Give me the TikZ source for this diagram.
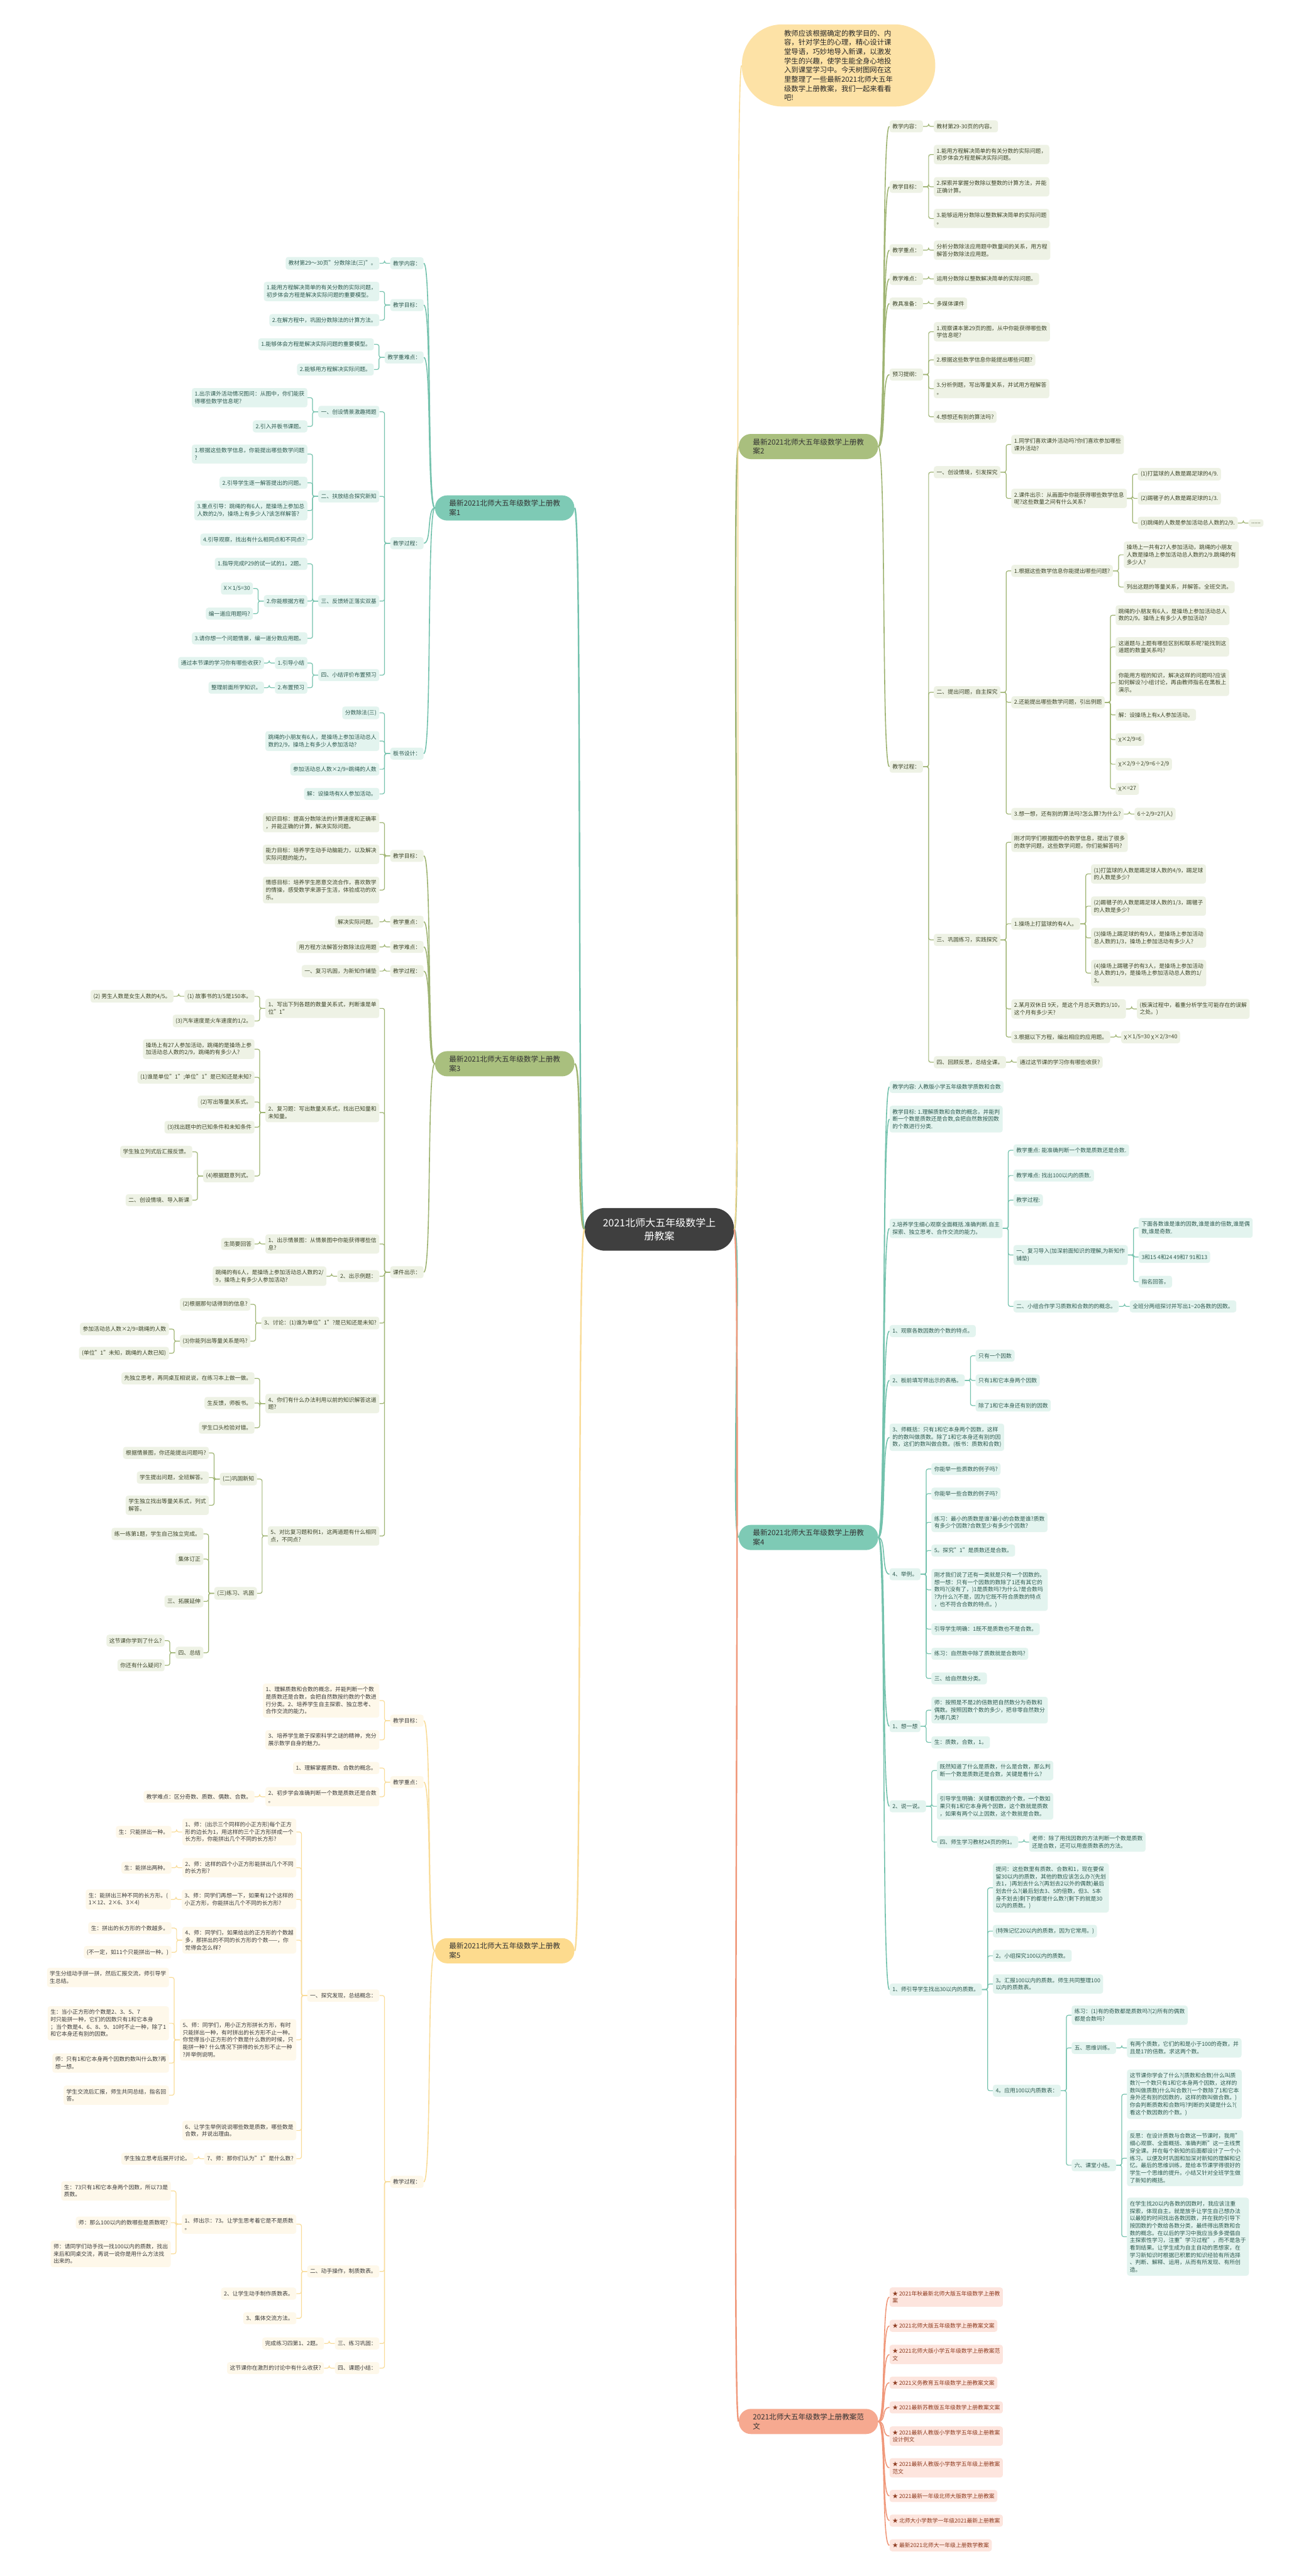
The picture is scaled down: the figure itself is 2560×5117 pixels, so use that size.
\documentclass[tikz,border=0pt]{standalone}
\usepackage{fontspec}
\setmainfont{Noto Sans CJK SC}
\definecolor{tealmain}{HTML}{7ECAB5}
\definecolor{tealfill}{HTML}{E3F4EF}
\definecolor{tealline}{HTML}{74C2AD}
\definecolor{tealtext}{HTML}{2E5A50}
\definecolor{olmain}{HTML}{A9BF7E}
\definecolor{olfill}{HTML}{EEF2E5}
\definecolor{olline}{HTML}{9FB473}
\definecolor{oltext}{HTML}{3D4529}
\definecolor{yemain}{HTML}{FDDB8E}
\definecolor{yefill}{HTML}{FEF8EA}
\definecolor{yeline}{HTML}{F9DC98}
\definecolor{yetext}{HTML}{3B3B3B}
\definecolor{pkmain}{HTML}{F6A990}
\definecolor{pkfill}{HTML}{FDE5DE}
\definecolor{pkline}{HTML}{F0987A}
\definecolor{pktext}{HTML}{8E3B20}
\definecolor{hubfill}{HTML}{3F3F3F}
\definecolor{introfill}{HTML}{FDE2A6}
\tikzset{
  leaf/.style={rounded corners=2.5pt, inner xsep=2.8pt, inner ysep=3.4pt, align=left,
    font=\fontsize{5.5}{7.3}\selectfont},
  tl/.style={leaf, fill=tealfill, text=tealtext},
  ol/.style={leaf, fill=olfill, text=oltext},
  yl/.style={leaf, fill=yefill, text=yetext},
  pl/.style={leaf, fill=pkfill, text=pktext},
  toR/.style={anchor=west, xshift=10.5pt},
  toL/.style={anchor=east, xshift=-10.5pt},
  branch/.style={rounded corners=12pt, inner xsep=14pt, inner ysep=4.5pt, align=left,
    font=\fontsize{7.25}{9.25}\selectfont, text=black!80},
  hub/.style={fill=hubfill, text=white, rounded corners=20pt, align=center,
    font=\fontsize{10}{13}\selectfont, inner xsep=18pt, inner ysep=10pt},
  intro/.style={fill=introfill, rounded corners=40pt, align=left, text=black!85,
    font=\fontsize{7.1}{9.15}\selectfont, inner xsep=42pt, inner ysep=5.5pt},
  rlink/.style={rounded corners=2pt, to path={(\tikztostart.east) -- ++(11,0) |- (\tikztotarget.west)}},
  llink/.style={rounded corners=2pt, to path={(\tikztostart.west) -- ++(-11,0) |- (\tikztotarget.east)}},
  rcurve/.style={to path={(\tikztostart.east) .. controls +(16,0) and +(-16,0) .. (\tikztotarget.west)}},
  lcurve/.style={to path={(\tikztostart.west) .. controls +(-16,0) and +(16,0) .. (\tikztotarget.east)}}
}

\begin{document}
\begin{tikzpicture}[x=0.5pt,y=-0.5pt]
\useasboundingbox (0,0) rectangle (2560,5117);
\fill[white] (0,0) rectangle (2560,5117);

% centre
\node[hub] (c) at (1310,2442) {2021北师大五年级数学上\\册教案};
\node[intro] (intro) at (1666,130) {教师应该根据确定的教学目的、内\\容，针对学生的心理，精心设计课\\堂导语，巧妙地导入新课，以激发\\学生的兴趣，使学生能全身心地投\\入到课堂学习中。今天树图网在这\\里整理了一些最新2021北师大五年\\级数学上册教案，我们一起来看看\\吧!};

% ---- case 2 (right, olive)
\node[branch, fill=olmain, anchor=east] (r2) at (1745,887) {最新2021北师大五年级数学上册教\\案2};
\node[ol, anchor=west] (r2a) at (1767,251) {教学内容：};
\node[ol, anchor=west] (r2b) at (1767,371) {教学目标：};
\node[ol, anchor=west] (r2c) at (1767,497) {教学重点：};
\node[ol, anchor=west] (r2d) at (1767,554) {教学难点：};
\node[ol, anchor=west] (r2e) at (1767,603) {教具准备：};
\node[ol, anchor=west] (r2f) at (1767,744) {预习提纲：};
\node[ol, anchor=west] (r2g) at (1767,1523) {教学过程：};
\node[ol, toR] (r2a1) at (r2a.east |- 0,251) {教材第29-30页的内容。};
\node[ol, toR] (r2b1) at (r2b.east |- 0,307) {1.能用方程解决简单的有关分数的实际问题，\\初步体会方程是解决实际问题。};
\node[ol, toR] (r2b2) at (r2b.east |- 0,371) {2.探索并掌握分数除以整数的计算方法，并能\\正确计算。};
\node[ol, toR] (r2b3) at (r2b.east |- 0,434) {3.能够运用分数除以整数解决简单的实际问题\\。};
\node[ol, toR] (r2c1) at (r2c.east |- 0,497) {分析分数除法应用题中数量间的关系，用方程\\解答分数除法应用题。};
\node[ol, toR] (r2d1) at (r2d.east |- 0,554) {运用分数除以整数解决简单的实际问题。};
\node[ol, toR] (r2e1) at (r2e.east |- 0,603) {多媒体课件};
\node[ol, toR] (r2f1) at (r2f.east |- 0,659) {1.观察课本第29页的图，从中你能获得哪些数\\学信息呢?};
\node[ol, toR] (r2f2) at (r2f.east |- 0,715) {2.根据这些数学信息你能提出哪些问题?};
\node[ol, toR] (r2f3) at (r2f.east |- 0,772) {3.分析例题，写出等量关系，并试用方程解答\\。};
\node[ol, toR] (r2f4) at (r2f.east |- 0,828) {4.想想还有别的算法吗?};
\node[ol, toR] (r2g1) at (r2g.east |- 0,938) {一、创设情境，引发探究};
\node[ol, toR] (r2g1a) at (r2g1.east |- 0,883) {1.同学们喜欢课外活动吗?你们喜欢参加哪些\\课外活动?};
\node[ol, toR] (r2g1b) at (r2g1.east |- 0,990) {2.课件出示：从画面中你能获得哪些数学信息\\呢?这些数量之间有什么关系?};
\node[ol, toR] (r2g1b1) at (r2g1b.east |- 0,942) {(1)打篮球的人数是踢足球的4/9.};
\node[ol, toR] (r2g1b2) at (r2g1b.east |- 0,990) {(2)踢毽子的人数是踢足球的1/3.};
\node[ol, toR] (r2g1b3) at (r2g1b.east |- 0,1039) {(3)跳绳的人数是参加活动总人数的2/9.};
\node[ol, toR] (r2g1b3a) at (r2g1b3.east |- 0,1039) {......};
\node[ol, toR] (r2g2) at (r2g.east |- 0,1375) {二、提出问题，自主探究};
\node[ol, toR] (r2g2a) at (r2g2.east |- 0,1134) {1.根据这些数学信息你能提出哪些问题?};
\node[ol, toR] (r2g2a1) at (r2g2a.east |- 0,1102) {操场上一共有27人参加活动，跳绳的小朋友\\人数是操场上参加活动总人数的2/9.跳绳的有\\多少人?};
\node[ol, toR] (r2g2a2) at (r2g2a.east |- 0,1166) {列出这题的等量关系，并解答。全班交流。};
\node[ol, toR] (r2g2b) at (r2g2.east |- 0,1395) {2.还能提出哪些数学问题，引出例题};
\node[ol, toR] (r2g2b1) at (r2g2b.east |- 0,1222) {跳绳的小朋友有6人，是操场上参加活动总人\\数的2/9。操场上有多少人参加活动?};
\node[ol, toR] (r2g2b2) at (r2g2b.east |- 0,1285) {这道题与上题有哪些区别和联系呢?能找到这\\道题的数量关系吗?};
\node[ol, toR] (r2g2b3) at (r2g2b.east |- 0,1356) {你能用方程的知识，解决这样的问题吗?应该\\如何解设?小组讨论，再由教师指名在黑板上\\演示。};
\node[ol, toR] (r2g2b4) at (r2g2b.east |- 0,1420) {解：设操场上有x人参加活动。};
\node[ol, toR] (r2g2b5) at (r2g2b.east |- 0,1469) {χ×2/9=6};
\node[ol, toR] (r2g2b6) at (r2g2b.east |- 0,1518) {χ×2/9÷2/9=6÷2/9};
\node[ol, toR] (r2g2b7) at (r2g2b.east |- 0,1567) {χ×=27};
\node[ol, toR] (r2g2c) at (r2g2.east |- 0,1617) {3.想一想，还有别的算法吗?怎么算?为什么?};
\node[ol, toR] (r2g2c1) at (r2g2c.east |- 0,1617) {6÷2/9=27(人)};
\node[ol, toR] (r2g3) at (r2g.east |- 0,1867) {三、巩固练习，实践探究};
\node[ol, toR] (r2g3a) at (r2g3.east |- 0,1673) {刚才同学们根据图中的数学信息，提出了很多\\的数学问题，这些数学问题，你们能解答吗?};
\node[ol, toR] (r2g3b) at (r2g3.east |- 0,1835) {1.操场上打篮球的有4人。};
\node[ol, toR] (r2g3b1) at (r2g3b.east |- 0,1736) {(1)打篮球的人数是踢足球人数的4/9，踢足球\\的人数是多少?};
\node[ol, toR] (r2g3b2) at (r2g3b.east |- 0,1800) {(2)踢毽子的人数是踢足球人数的1/3，踢毽子\\的人数是多少?};
\node[ol, toR] (r2g3b3) at (r2g3b.east |- 0,1863) {(3)操场上踢足球的有9人，是操场上参加活动\\总人数的1/3，操场上参加活动有多少人?};
\node[ol, toR] (r2g3b4) at (r2g3b.east |- 0,1933) {(4)操场上踢毽子的有3人，是操场上参加活动\\总人数的1/9，是操场上参加活动总人数的1/\\3。};
\node[ol, toR] (r2g3c) at (r2g3.east |- 0,2004) {2.某月双休日 9天，是这个月总天数的3/10，\\这个月有多少天?};
\node[ol, toR] (r2g3c1) at (r2g3c.east |- 0,2004) {(板演过程中，着重分析学生可能存在的误解\\之处。)};
\node[ol, toR] (r2g3d) at (r2g3.east |- 0,2060) {3.根据以下方程，编出相应的应用题。};
\node[ol, toR] (r2g3d1) at (r2g3d.east |- 0,2060) {χ×1/5=30 χ×2/3=40};
\node[ol, toR] (r2g4) at (r2g.east |- 0,2110) {四、回顾反思，总结全课。};
\node[ol, toR] (r2g4a) at (r2g4.east |- 0,2110) {通过这节课的学习你有哪些收获?};

% ---- case 4 (right, teal)
\node[branch, fill=tealmain, anchor=east] (r4) at (1745,3054) {最新2021北师大五年级数学上册教\\案4};
\node[tl, anchor=west] (r4a) at (1767,2159) {教学内容: 人教版小学五年级数学质数和合数};
\node[tl, anchor=west] (r4b) at (1767,2223) {教学目标: 1.理解质数和合数的概念，并能判\\断一个数是质数还是合数,会把自然数按因数\\的个数进行分类.};
\node[tl, anchor=west] (r4c) at (1767,2440) {2.培养学生细心观察全面概括.准确判断.自主\\探索、独立思考、合作交流的能力。};
\node[tl, toR] (r4c1) at (r4c.east |- 0,2285) {教学重点: 能准确判断一个数是质数还是合数.};
\node[tl, toR] (r4c2) at (r4c.east |- 0,2335) {教学难点: 找出100以内的质数.};
\node[tl, toR] (r4c3) at (r4c.east |- 0,2384) {教学过程:};
\node[tl, toR] (r4c4) at (r4c.east |- 0,2493) {一、复习导入(加深前面知识的理解,为新知作\\铺垫)};
\node[tl, toR] (r4c4a) at (r4c4.east |- 0,2439) {下面各数谁是谁的因数,谁是谁的倍数,谁是偶\\数,谁是奇数.};
\node[tl, toR] (r4c4b) at (r4c4.east |- 0,2497) {3和15 4和24 49和7 91和13};
\node[tl, toR] (r4c4c) at (r4c4.east |- 0,2546) {指名回答。};
\node[tl, toR] (r4c5) at (r4c.east |- 0,2595) {二、小组合作学习质数和合数的的概念。};
\node[tl, toR] (r4c5a) at (r4c5.east |- 0,2595) {全班分两组探讨并写出1\textasciitilde20各数的因数。};
\node[tl, anchor=west] (r4d) at (1767,2644) {1、观察各数因数的个数的特点。};
\node[tl, anchor=west] (r4e) at (1767,2742) {2、板前填写师出示的表格。};
\node[tl, toR] (r4e1) at (r4e.east |- 0,2693) {只有一个因数};
\node[tl, toR] (r4e2) at (r4e.east |- 0,2742) {只有1和它本身两个因数};
\node[tl, toR] (r4e3) at (r4e.east |- 0,2792) {除了1和它本身还有别的因数};
\node[tl, anchor=west] (r4f) at (1767,2855) {3、师概括：只有1和它本身两个因数，这样\\的的数叫做质数。除了1和它本身还有别的因\\数，这们的数叫做合数。(板书：质数和合数)};
\node[tl, anchor=west] (r4g) at (1767,3127) {4、举例。};
\node[tl, toR] (r4g1) at (r4g.east |- 0,2918) {你能举一些质数的例子吗?};
\node[tl, toR] (r4g2) at (r4g.east |- 0,2967) {你能举一些合数的例子吗?};
\node[tl, toR] (r4g3) at (r4g.east |- 0,3024) {练习：最小的质数是谁?最小的合数是谁?质数\\有多少个因数?合数至少有多少个因数?};
\node[tl, toR] (r4g4) at (r4g.east |- 0,3080) {5。探究"1"是质数还是合数。};
\node[tl, toR] (r4g5) at (r4g.east |- 0,3158) {刚才我们说了还有一类就是只有一个因数的。\\想一想：只有一个因数的数除了1还有其它的\\数吗?(没有了，)1是质数吗?为什么?是合数吗\\?为什么?(不是，因为它既不符合质数的特点\\，也不符合合数的特点。)};
\node[tl, toR] (r4g6) at (r4g.east |- 0,3236) {引导学生明确：1既不是质数也不是合数。};
\node[tl, toR] (r4g7) at (r4g.east |- 0,3285) {练习：自然数中除了质数就是合数吗?};
\node[tl, toR] (r4g8) at (r4g.east |- 0,3334) {三、给自然数分类。};
\node[tl, anchor=west] (r4h) at (1767,3429) {1、想一想};
\node[tl, toR] (r4h1) at (r4h.east |- 0,3397) {师：按照是不是2的倍数把自然数分为奇数和\\偶数。按照因数个数的多少，把非零自然数分\\为哪几类?};
\node[tl, toR] (r4h2) at (r4h.east |- 0,3461) {生：质数，合数，1。};
\node[tl, anchor=west] (r4i) at (1767,3588) {2、说一说。};
\node[tl, toR] (r4i1) at (r4i.east |- 0,3517) {既然知道了什么是质数，什么是合数，那么判\\断一个数是质数还是合数，关键是看什么?};
\node[tl, toR] (r4i2) at (r4i.east |- 0,3588) {引导学生明确：关键看因数的个数，一个数如\\果只有1和它本身两个因数，这个数就是质数\\，如果有两个以上因数，这个数就是合数。};
\node[tl, toR] (r4i3) at (r4i.east |- 0,3659) {四、师生学习教材24页的例1。};
\node[tl, toR] (r4i3a) at (r4i3.east |- 0,3659) {老师：除了用找因数的方法判断一个数是质数\\还是合数，还可以用查质数表的方法。};
\node[tl, anchor=west] (r4j) at (1767,3952) {1、师引导学生找出30以内的质数。};
\node[tl, toR] (r4j1) at (r4j.east |- 0,3750) {提问：这些数里有质数、合数和1，现在要保\\留30以内的质数，其他的数应该怎么办?(先划\\去1，)再划去什么?(再划去2以外的偶数)最后\\划去什么?(最后划去3、5的倍数，但3、5本\\身不划去)剩下的都是什么数?(剩下的就是30\\以内的质数。)};
\node[tl, toR] (r4j2) at (r4j.east |- 0,3836) {(特殊记忆20以内的质数，因为它常用。)};
\node[tl, toR] (r4j3) at (r4j.east |- 0,3885) {2。小组探究100以内的质数。};
\node[tl, toR] (r4j4) at (r4j.east |- 0,3941) {3。汇报100以内的质数。师生共同整理100\\以内的质数表。};
\node[tl, toR] (r4j5) at (r4j.east |- 0,4153) {4。应用100以内质数表：};
\node[tl, toR] (r4j5a) at (r4j5.east |- 0,4003) {练习：(1)有的奇数都是质数吗?(2)所有的偶数\\都是合数吗?};
\node[tl, toR] (r4j5b) at (r4j5.east |- 0,4068) {五、思维训练。};
\node[tl, toR] (r4j5b1) at (r4j5b.east |- 0,4068) {有两个质数，它们的和是小于100的奇数，并\\且是17的倍数。求这两个数。};
\node[tl, toR] (r4j5c) at (r4j5.east |- 0,4301) {六、课堂小结。};
\node[tl, toR] (r4j5c1) at (r4j5c.east |- 0,4160) {这节课你学会了什么?(质数和合数)什么叫质\\数?(一个数只有1和它本身两个因数，这样的\\数叫做质数)什么叫合数?(一个数除了1和它本\\身外还有别的因数的，这样的数叫做合数。)\\你会判断质数和合数吗?判断的关键是什么?(\\看这个数因数的个数。)};
\node[tl, toR] (r4j5c2) at (r4j5c.east |- 0,4287) {反思：在设计质数与合数这一节课时，我用"\\细心观察、全面概括、准确判断"这一主线贯\\穿全课。并在每个新知的后面都设计了一个小\\练习。以便及时巩固和加深对新知的理解和记\\忆。最后的思维训练，是给本节课学得很好的\\学生一个思维的提升。小结又针对全班学生做\\了新知的概括。};
\node[tl, toR] (r4j5c3) at (r4j5c.east |- 0,4443) {在学生找20以内各数的因数时，我应该注重\\探索，体现自主。就是放手让学生自己想办法\\以最短的时间找出各数因数，并在我的引导下\\按因数的个数给各数分类，最终得出质数和合\\数的概念。在以后的学习中我应当多多提倡自\\主探索性学习，注重"学习过程"，而不是急于\\看到结果。让学生成为自主自动的思想家，在\\学习新知识时根据已积累的知识经验有所选择\\、判断、解释、运用，从而有所发现、有所创\\造。};

% ---- related (right, pink)
\node[branch, fill=pkmain, anchor=east] (rp) at (1745,4810) {2021北师大五年级数学上册教案范\\文};
\node[pl, anchor=west] (rp1) at (1767,4563) {★ 2021年秋最新北师大版五年级数学上册教\\案};
\node[pl, anchor=west] (rp2) at (1767,4620) {★ 2021北师大版五年级数学上册教案文案};
\node[pl, anchor=west] (rp3) at (1767,4677) {★ 2021北师大版小学五年级数学上册教案范\\文};
\node[pl, anchor=west] (rp4) at (1767,4733) {★ 2021义务教育五年级数学上册教案文案};
\node[pl, anchor=west] (rp5) at (1767,4782) {★ 2021最新苏教版五年级数学上册教案文案};
\node[pl, anchor=west] (rp6) at (1767,4839) {★ 2021最新人教版小学数学五年级上册教案\\设计例文};
\node[pl, anchor=west] (rp7) at (1767,4902) {★ 2021最新人教版小学数学五年级上册教案\\范文};
\node[pl, anchor=west] (rp8) at (1767,4958) {★ 2021最新一年级北师大版数学上册教案};
\node[pl, anchor=west] (rp9) at (1767,5007) {★ 北师大小学数学一年级2021最新上册教案};
\node[pl, anchor=west] (rp10) at (1767,5056) {★ 最新2021北师大一年级上册数学教案};

% ---- case 1 (left, teal)
\node[branch, fill=tealmain, anchor=west] (l1) at (864,1009) {最新2021北师大五年级数学上册教\\案1};
\node[tl, anchor=east] (l1a) at (842,523) {教学内容：};
\node[tl, anchor=east] (l1b) at (842,606) {教学目标：};
\node[tl, anchor=east] (l1c) at (842,710) {教学重难点：};
\node[tl, anchor=east] (l1d) at (842,1079) {教学过程：};
\node[tl, anchor=east] (l1e) at (842,1497) {板书设计：};
\node[tl, toL] (l1a1) at (l1a.west |- 0,523) {教材第29～30页"分数除法(三)"。};
\node[tl, toL] (l1b1) at (l1b.west |- 0,579) {1.能用方程解决简单的有关分数的实际问题，\\初步体会方程是解决实际问题的重要模型。};
\node[tl, toL] (l1b2) at (l1b.west |- 0,636) {2.在解方程中，巩固分数除法的计算方法。};
\node[tl, toL] (l1c1) at (l1c.west |- 0,684) {1.能够体会方程是解决实际问题的重要模型。};
\node[tl, toL] (l1c2) at (l1c.west |- 0,734) {2.能够用方程解决实际问题。};
\node[tl, toL] (l1d1) at (l1d.west |- 0,818) {一、创设情景激趣揭题};
\node[tl, toL] (l1d1a) at (l1d1.west |- 0,790) {1.出示课外活动情况图问：从图中，你们能获\\得哪些数学信息呢?};
\node[tl, toL] (l1d1b) at (l1d1.west |- 0,847) {2.引入并板书课题。};
\node[tl, toL] (l1d2) at (l1d.west |- 0,986) {二、扶放结合探究新知};
\node[tl, toL] (l1d2a) at (l1d2.west |- 0,902) {1.根据这些数学信息，你能提出哪些数学问题\\?};
\node[tl, toL] (l1d2b) at (l1d2.west |- 0,959) {2.引导学生逐一解答提出的问题。};
\node[tl, toL] (l1d2c) at (l1d2.west |- 0,1014) {3.重点引导：跳绳的有6人，是操场上参加总\\人数的2/9，操场上有多少人?该怎样解答?};
\node[tl, toL] (l1d2d) at (l1d2.west |- 0,1072) {4.引导观察，找出有什么相同点和不同点?};
\node[tl, toL] (l1d3) at (l1d.west |- 0,1194) {三、反馈矫正落实双基};
\node[tl, toL] (l1d3a) at (l1d3.west |- 0,1120) {1.指导完成P29的试一试的1，2题。};
\node[tl, toL] (l1d3b) at (l1d3.west |- 0,1194) {2.你能根据方程};
\node[tl, toL] (l1d3b1) at (l1d3b.west |- 0,1169) {X×1/5=30};
\node[tl, toL] (l1d3b2) at (l1d3b.west |- 0,1219) {编一道应用题吗?};
\node[tl, toL] (l1d3c) at (l1d3.west |- 0,1268) {3.请你想一个问题情景，编一道分数应用题。};
\node[tl, toL] (l1d4) at (l1d.west |- 0,1341) {四、小结评价布置预习};
\node[tl, toL] (l1d4a) at (l1d4.west |- 0,1317) {1.引导小结};
\node[tl, toL] (l1d4a1) at (l1d4a.west |- 0,1317) {通过本节课的学习你有哪些收获?};
\node[tl, toL] (l1d4b) at (l1d4.west |- 0,1366) {2.布置预习};
\node[tl, toL] (l1d4b1) at (l1d4b.west |- 0,1366) {整理前面所学知识。};
\node[tl, toL] (l1e1) at (l1e.west |- 0,1416) {分数除法(三)};
\node[tl, toL] (l1e2) at (l1e.west |- 0,1472) {跳绳的小朋友有6人，是操场上参加活动总人\\数的2/9，操场上有多少人参加活动?};
\node[tl, toL] (l1e3) at (l1e.west |- 0,1528) {参加活动总人数×2/9=跳绳的人数};
\node[tl, toL] (l1e4) at (l1e.west |- 0,1577) {解：设操场有X人参加活动。};

% ---- case 3 (left, olive)
\node[branch, fill=olmain, anchor=west] (l3) at (864,2113) {最新2021北师大五年级数学上册教\\案3};
\node[ol, anchor=east] (l3a) at (842,1700) {教学目标：};
\node[ol, anchor=east] (l3b) at (842,1831) {教学重点：};
\node[ol, anchor=east] (l3c) at (842,1881) {教学难点：};
\node[ol, anchor=east] (l3d) at (842,1929) {教学过程：};
\node[ol, anchor=east] (l3e) at (842,2527) {课件出示：};
\node[ol, toL] (l3a1) at (l3a.west |- 0,1634) {知识目标：提高分数除法的计算速度和正确率\\，并能正确的计算，解决实际问题。};
\node[ol, toL] (l3a2) at (l3a.west |- 0,1697) {能力目标：培养学生动手动脑能力，以及解决\\实际问题的能力。};
\node[ol, toL] (l3a3) at (l3a.west |- 0,1768) {情感目标：培养学生愿意交流合作，喜欢数学\\的情操，感受数学来源于生活，体验成功的欢\\乐。};
\node[ol, toL] (l3b1) at (l3b.west |- 0,1831) {解决实际问题。};
\node[ol, toL] (l3c1) at (l3c.west |- 0,1881) {用方程方法解答分数除法应用题};
\node[ol, toL] (l3d1) at (l3d.west |- 0,1929) {一、复习巩固，为新知作铺垫};
\node[ol, toL] (l3e1) at (l3e.west |- 0,2003) {1、写出下列各题的数量关系式，判断谁是单\\位"1"};
\node[ol, toL] (l3e1a) at (l3e1.west |- 0,1979) {(1) 故事书的3/5是150本。};
\node[ol, toL] (l3e1a1) at (l3e1a.west |- 0,1979) {(2) 男生人数是女生人数的4/5。};
\node[ol, toL] (l3e1b) at (l3e1.west |- 0,2028) {(3)汽车速度是火车速度的1/2。};
\node[ol, toL] (l3e2) at (l3e.west |- 0,2210) {2、复习题：写出数量关系式，找出已知量和\\未知量。};
\node[ol, toL] (l3e2a) at (l3e2.west |- 0,2084) {操场上有27人参加活动，跳绳的是操场上参\\加活动总人数的2/9，跳绳的有多少人?};
\node[ol, toL] (l3e2b) at (l3e2.west |- 0,2140) {(1)谁是单位"1";单位"1"是已知还是未知?};
\node[ol, toL] (l3e2c) at (l3e2.west |- 0,2189) {(2)写出等量关系式。};
\node[ol, toL] (l3e2d) at (l3e2.west |- 0,2239) {(3)找出题中的已知条件和未知条件};
\node[ol, toL] (l3e2e) at (l3e2.west |- 0,2336) {(4)根据题意列式。};
\node[ol, toL] (l3e2e1) at (l3e2e.west |- 0,2288) {学生独立列式后汇报反馈。};
\node[ol, toL] (l3e2e2) at (l3e2e.west |- 0,2384) {二、创设情境、导入新课};
\node[ol, toL] (l3e3) at (l3e.west |- 0,2471) {1、出示情景图：从情景图中你能获得哪些信\\息?};
\node[ol, toL] (l3e3a) at (l3e3.west |- 0,2471) {生简要回答};
\node[ol, toL] (l3e4) at (l3e.west |- 0,2535) {2、出示例题：};
\node[ol, toL] (l3e4a) at (l3e4.west |- 0,2535) {跳绳的有6人，是操场上参加活动总人数的2/\\9，操场上有多少人参加活动?};
\node[ol, toL] (l3e5) at (l3e.west |- 0,2628) {3、讨论：(1)谁为单位"1"?是已知还是未知?};
\node[ol, toL] (l3e5a) at (l3e5.west |- 0,2591) {(2)根据那句话得到的信息?};
\node[ol, toL] (l3e5b) at (l3e5.west |- 0,2664) {(3)你能列出等量关系是吗?};
\node[ol, toL] (l3e5b1) at (l3e5b.west |- 0,2640) {参加活动总人数×2/9=跳绳的人数};
\node[ol, toL] (l3e5b2) at (l3e5b.west |- 0,2688) {(单位"1"未知，跳绳的人数已知)};
\node[ol, toL] (l3e6) at (l3e.west |- 0,2788) {4、你们有什么办法利用以前的知识解答这道\\题?};
\node[ol, toL] (l3e6a) at (l3e6.west |- 0,2738) {先独立思考，再同桌互相说说，在练习本上做一做。};
\node[ol, toL] (l3e6b) at (l3e6.west |- 0,2787) {生反馈，师板书。};
\node[ol, toL] (l3e6c) at (l3e6.west |- 0,2836) {学生口头检验对错。};
\node[ol, toL] (l3e7) at (l3e.west |- 0,3051) {5、对比复习题和例1，这两道题有什么相同\\点，不同点?};
\node[ol, toL] (l3e7a) at (l3e7.west |- 0,2938) {(二)巩固新知};
\node[ol, toL] (l3e7a1) at (l3e7a.west |- 0,2886) {根据情景图，你还能提出问题吗?};
\node[ol, toL] (l3e7a2) at (l3e7a.west |- 0,2935) {学生提出问题，全班解答。};
\node[ol, toL] (l3e7a3) at (l3e7a.west |- 0,2990) {学生独立找出等量关系式，列式\\解答。};
\node[ol, toL] (l3e7b) at (l3e7.west |- 0,3165) {(三)练习、巩固};
\node[ol, toL] (l3e7b1) at (l3e7b.west |- 0,3047) {练一练第1题，学生自己独立完成。};
\node[ol, toL] (l3e7b2) at (l3e7b.west |- 0,3097) {集体订正};
\node[ol, toL] (l3e7b3) at (l3e7b.west |- 0,3181) {三、拓展延伸};
\node[ol, toL] (l3e7b4) at (l3e7b.west |- 0,3283) {四、总结};
\node[ol, toL] (l3e7b4a) at (l3e7b4.west |- 0,3259) {这节课你学到了什么?};
\node[ol, toL] (l3e7b4b) at (l3e7b4.west |- 0,3308) {你还有什么疑问?};

% ---- case 5 (left, yellow)
\node[branch, fill=yemain, anchor=west] (l5) at (864,3875) {最新2021北师大五年级数学上册教\\案5};
\node[yl, anchor=east] (l5a) at (842,3418) {教学目标：};
\node[yl, anchor=east] (l5b) at (842,3540) {教学重点：};
\node[yl, anchor=east] (l5c) at (842,4334) {教学过程：};
\node[yl, toL] (l5a1) at (l5a.west |- 0,3378) {1、理解质数和合数的概念，并能判断一个数\\是质数还是合数，会把自然数按约数的个数进\\行分类。2、培养学生自主探索、独立思考、\\合作交流的能力。};
\node[yl, toL] (l5a2) at (l5a.west |- 0,3456) {3、培养学生敢于探索科学之谜的精神，充分\\展示数学自身的魅力。};
\node[yl, toL] (l5b1) at (l5b.west |- 0,3512) {1、理解掌握质数、合数的概念。};
\node[yl, toL] (l5b2) at (l5b.west |- 0,3569) {2、初步学会准确判断一个数是质数还是合数\\。};
\node[yl, toL] (l5b2a) at (l5b2.west |- 0,3569) {教学难点：区分奇数、质数、偶数、合数。};
\node[yl, toL] (l5c1) at (l5c.west |- 0,3964) {一、探究发现，总结概念：};
\node[yl, toL] (l5c1a) at (l5c1.west |- 0,3639) {1、师：(出示三个同样的小正方形)每个正方\\形的边长为1，用这样的三个正方形拼成一个\\长方形，你能拼出几个不同的长方形?};
\node[yl, toL] (l5c1a1) at (l5c1a.west |- 0,3639) {生：只能拼出一种。};
\node[yl, toL] (l5c1b) at (l5c1.west |- 0,3710) {2、师：这样的四个小正方形能拼出几个不同\\的长方形?};
\node[yl, toL] (l5c1b1) at (l5c1b.west |- 0,3710) {生：能拼出两种。};
\node[yl, toL] (l5c1c) at (l5c1.west |- 0,3773) {3、师：同学们再想一下，如果有12个这样的\\小正方形，你能拼出几个不同的长方形?};
\node[yl, toL] (l5c1c1) at (l5c1c.west |- 0,3773) {生：能拼出三种不同的长方形。(\\1×12、2×6、3×4)};
\node[yl, toL] (l5c1d) at (l5c1.west |- 0,3854) {4、师：同学们，如果给出的正方形的个数越\\多，那拼出的不同的长方形的个数——，你\\觉得会怎么样?};
\node[yl, toL] (l5c1d1) at (l5c1d.west |- 0,3830) {生：拼出的长方形的个数越多。};
\node[yl, toL] (l5c1d2) at (l5c1d.west |- 0,3878) {(不一定，如11个只能拼出一种。)};
\node[yl, toL] (l5c1e) at (l5c1.west |- 0,4052) {5、师：同学们，用小正方形拼长方形，有时\\只能拼出一种，有时拼出的长方形不止一种。\\你觉得当小正方形的个数是什么数的时候，只\\能拼一种? 什么情况下拼得的长方形不止一种\\?并举例说明。};
\node[yl, toL] (l5c1e1) at (l5c1e.west |- 0,3928) {学生分组动手拼一拼，然后汇报交流，师引导学\\生总结。};
\node[yl, toL] (l5c1e2) at (l5c1e.west |- 0,4019) {生：当小正方形的个数是2、3、5、7\\时只能拼一种，它们的因数只有1和它本身\\；当个数是4、6、8、9、10时不止一种，除了1\\和它本身还有别的因数。};
\node[yl, toL] (l5c1e3) at (l5c1e.west |- 0,4098) {师：只有1和它本身两个因数的数叫什么数?再\\想一想。};
\node[yl, toL] (l5c1e4) at (l5c1e.west |- 0,4162) {学生交流后汇报，师生共同总结，指名回\\答。};
\node[yl, toL] (l5c1f) at (l5c1.west |- 0,4232) {6、让学生举例说说哪些数是质数，哪些数是\\合数，并说出理由。};
\node[yl, toL] (l5c1g) at (l5c1.west |- 0,4288) {7、师：那你们认为"1"是什么数?};
\node[yl, toL] (l5c1g1) at (l5c1g.west |- 0,4288) {学生独立思考后展开讨论。};
\node[yl, toL] (l5c2) at (l5c.west |- 0,4512) {二、动手操作，制质数表。};
\node[yl, toL] (l5c2a) at (l5c2.west |- 0,4418) {1、师出示：73。让学生思考着它是不是质数\\。};
\node[yl, toL] (l5c2a1) at (l5c2a.west |- 0,4352) {生：73只有1和它本身两个因数，所以73是\\质数。};
\node[yl, toL] (l5c2a2) at (l5c2a.west |- 0,4415) {师：那么100以内的数哪些是质数呢?};
\node[yl, toL] (l5c2a3) at (l5c2a.west |- 0,4477) {师：请同学们动手找一找100以内的质数，找出\\来后和同桌交流，再说一说你是用什么方法找\\出来的。};
\node[yl, toL] (l5c2b) at (l5c2.west |- 0,4556) {2、让学生动手制作质数表。};
\node[yl, toL] (l5c2c) at (l5c2.west |- 0,4605) {3、集体交流方法。};
\node[yl, toL] (l5c3) at (l5c.west |- 0,4655) {三、练习巩固：};
\node[yl, toL] (l5c3a) at (l5c3.west |- 0,4655) {完成练习四第1、2题。};
\node[yl, toL] (l5c4) at (l5c.west |- 0,4704) {四、课题小结：};
\node[yl, toL] (l5c4a) at (l5c4.west |- 0,4704) {这节课你在激烈的讨论中有什么收获?};

% centre links
\draw[olline, line width=1.5pt, rcurve] (c) to (r2);
\draw[tealline, line width=1.5pt, rcurve] (c) to (r4);
\draw[pkline, line width=1.5pt, rcurve] (c) to (rp);
\draw[yeline, line width=1pt, rcurve] (c) to (intro);
\draw[tealline, line width=1.5pt, lcurve] (c) to (l1);
\draw[olline, line width=1.5pt, lcurve] (c) to (l3);
\draw[yeline, line width=1.5pt, lcurve] (c) to (l5);

% branch links
\foreach \k in {r2a,r2b,r2c,r2d,r2e,r2f,r2g}
  \draw[olline, line width=1pt, rcurve] (r2) to (\k);
\foreach \k in {r4a,r4b,r4c,r4d,r4e,r4f,r4g,r4h,r4i,r4j}
  \draw[tealline, line width=1pt, rcurve] (r4) to (\k);
\foreach \k in {rp1,rp2,rp3,rp4,rp5,rp6,rp7,rp8,rp9,rp10}
  \draw[pkline, line width=1pt, rcurve] (rp) to (\k);
\foreach \k in {l1a,l1b,l1c,l1d,l1e}
  \draw[tealline, line width=1pt, lcurve] (l1) to (\k);
\foreach \k in {l3a,l3b,l3c,l3d,l3e}
  \draw[olline, line width=1pt, lcurve] (l3) to (\k);
\foreach \k in {l5a,l5b,l5c}
  \draw[yeline, line width=1pt, lcurve] (l5) to (\k);

% leaf links
\foreach \a/\b in {r2a/r2a1,r2b/r2b1,r2b/r2b2,r2b/r2b3,r2c/r2c1,r2d/r2d1,r2e/r2e1,
  r2f/r2f1,r2f/r2f2,r2f/r2f3,r2f/r2f4,r2g/r2g1,r2g/r2g2,r2g/r2g3,r2g/r2g4,
  r2g1/r2g1a,r2g1/r2g1b,r2g1b/r2g1b1,r2g1b/r2g1b2,r2g1b/r2g1b3,r2g1b3/r2g1b3a,
  r2g2/r2g2a,r2g2/r2g2b,r2g2/r2g2c,r2g2a/r2g2a1,r2g2a/r2g2a2,
  r2g2b/r2g2b1,r2g2b/r2g2b2,r2g2b/r2g2b3,r2g2b/r2g2b4,r2g2b/r2g2b5,r2g2b/r2g2b6,r2g2b/r2g2b7,
  r2g2c/r2g2c1,r2g3/r2g3a,r2g3/r2g3b,r2g3/r2g3c,r2g3/r2g3d,
  r2g3b/r2g3b1,r2g3b/r2g3b2,r2g3b/r2g3b3,r2g3b/r2g3b4,r2g3c/r2g3c1,r2g3d/r2g3d1,r2g4/r2g4a}
  \draw[olline, line width=0.75pt, rlink] (\a) to (\b);
\foreach \a/\b in {r4c/r4c1,r4c/r4c2,r4c/r4c3,r4c/r4c4,r4c/r4c5,r4c4/r4c4a,r4c4/r4c4b,r4c4/r4c4c,
  r4c5/r4c5a,r4e/r4e1,r4e/r4e2,r4e/r4e3,r4g/r4g1,r4g/r4g2,r4g/r4g3,r4g/r4g4,r4g/r4g5,
  r4g/r4g6,r4g/r4g7,r4g/r4g8,r4h/r4h1,r4h/r4h2,r4i/r4i1,r4i/r4i2,r4i/r4i3,r4i3/r4i3a,
  r4j/r4j1,r4j/r4j2,r4j/r4j3,r4j/r4j4,r4j/r4j5,r4j5/r4j5a,r4j5/r4j5b,r4j5/r4j5c,
  r4j5b/r4j5b1,r4j5c/r4j5c1,r4j5c/r4j5c2,r4j5c/r4j5c3}
  \draw[tealline, line width=0.75pt, rlink] (\a) to (\b);
\foreach \a/\b in {l1a/l1a1,l1b/l1b1,l1b/l1b2,l1c/l1c1,l1c/l1c2,l1d/l1d1,l1d/l1d2,l1d/l1d3,l1d/l1d4,
  l1d1/l1d1a,l1d1/l1d1b,l1d2/l1d2a,l1d2/l1d2b,l1d2/l1d2c,l1d2/l1d2d,l1d3/l1d3a,l1d3/l1d3b,
  l1d3/l1d3c,l1d3b/l1d3b1,l1d3b/l1d3b2,l1d4/l1d4a,l1d4/l1d4b,l1d4a/l1d4a1,l1d4b/l1d4b1,
  l1e/l1e1,l1e/l1e2,l1e/l1e3,l1e/l1e4}
  \draw[tealline, line width=0.75pt, llink] (\a) to (\b);
\foreach \a/\b in {l3a/l3a1,l3a/l3a2,l3a/l3a3,l3b/l3b1,l3c/l3c1,l3d/l3d1,
  l3e/l3e1,l3e/l3e2,l3e/l3e3,l3e/l3e4,l3e/l3e5,l3e/l3e6,l3e/l3e7,l3e1/l3e1a,l3e1/l3e1b,l3e1a/l3e1a1,
  l3e2/l3e2a,l3e2/l3e2b,l3e2/l3e2c,l3e2/l3e2d,l3e2/l3e2e,l3e2e/l3e2e1,l3e2e/l3e2e2,l3e3/l3e3a,l3e4/l3e4a,
  l3e5/l3e5a,l3e5/l3e5b,l3e5b/l3e5b1,l3e5b/l3e5b2,l3e6/l3e6a,l3e6/l3e6b,l3e6/l3e6c,l3e7/l3e7a,l3e7/l3e7b,
  l3e7a/l3e7a1,l3e7a/l3e7a2,l3e7a/l3e7a3,l3e7b/l3e7b1,
  l3e7b/l3e7b2,l3e7b/l3e7b3,l3e7b/l3e7b4,l3e7b4/l3e7b4a,l3e7b4/l3e7b4b}
  \draw[olline, line width=0.75pt, llink] (\a) to (\b);
\foreach \a/\b in {l5a/l5a1,l5a/l5a2,l5b/l5b1,l5b/l5b2,l5b2/l5b2a,l5c/l5c1,l5c/l5c2,l5c/l5c3,l5c/l5c4,
  l5c1/l5c1a,l5c1/l5c1b,l5c1/l5c1c,l5c1/l5c1d,l5c1/l5c1e,l5c1/l5c1f,l5c1/l5c1g,l5c1g/l5c1g1,
  l5c1a/l5c1a1,l5c1b/l5c1b1,l5c1c/l5c1c1,l5c1d/l5c1d1,l5c1d/l5c1d2,
  l5c1e/l5c1e1,l5c1e/l5c1e2,l5c1e/l5c1e3,l5c1e/l5c1e4,
  l5c2/l5c2a,l5c2/l5c2b,l5c2/l5c2c,l5c2a/l5c2a1,l5c2a/l5c2a2,l5c2a/l5c2a3,l5c3/l5c3a,l5c4/l5c4a}
  \draw[yeline, line width=0.75pt, llink] (\a) to (\b);
\end{tikzpicture}
\end{document}
